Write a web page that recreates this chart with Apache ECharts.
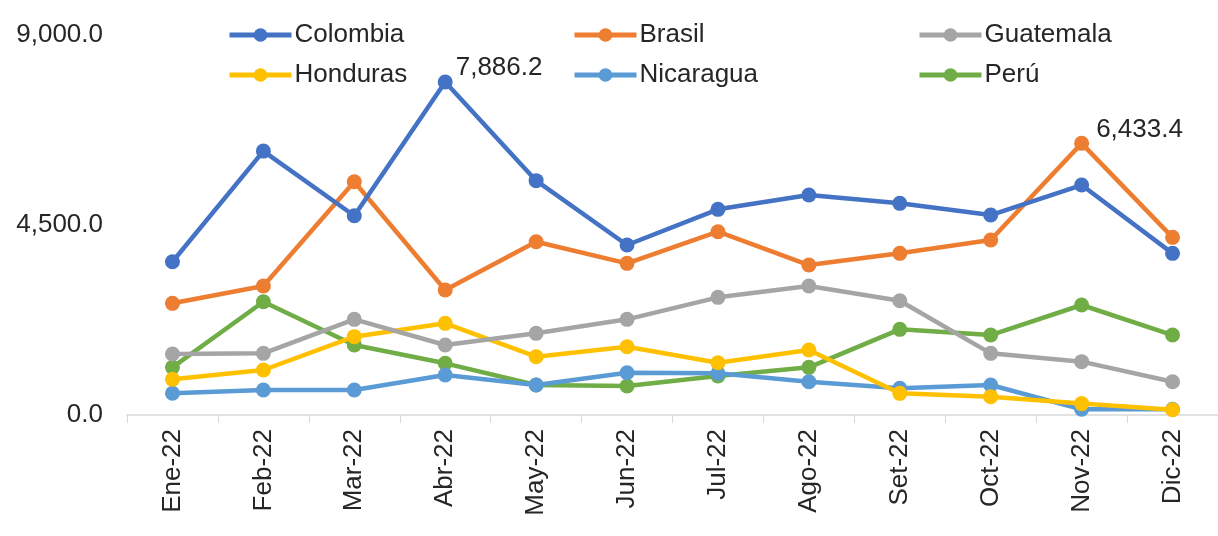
<!DOCTYPE html>
<html>
<head>
<meta charset="utf-8">
<script src="https://cdn.jsdelivr.net/npm/echarts@6/dist/echarts.min.js"></script>
<style>
  html, body { margin: 0; padding: 0; background: #fff; }
  #main { width: 1218px; height: 536px; }
</style>
</head>
<body>
<div id="main"></div>
<script>
// meses
var months = ['Ene-22', 'Feb-22', 'Mar-22', 'Abr-22', 'May-22', 'Jun-22',
              'Jul-22', 'Ago-22', 'Set-22', 'Oct-22', 'Nov-22', 'Dic-22'];

// valores por país
var colombia  = [3630, 6250, 4720, 7886.2, 5550, 4026, 4871, 5210, 5013, 4736, 5446, 3829];
var brasil    = [2645, 3055, 5525, 2960, 4104, 3592, 4341, 3552, 3829, 4144, 6433.4, 4208];
var guatemala = [1444, 1460, 2266, 1658, 1934, 2266, 2787, 3055, 2707, 1460, 1263, 789];
var honduras  = [845, 1066, 1855, 2171, 1381, 1618, 1239, 1539, 513, 434, 270, 125];
var nicaragua = [514, 592, 592, 947, 710, 1002, 987, 789, 632, 710, 135, 135];
var peru      = [1129, 2683, 1658, 1224, 710, 687, 924, 1129, 2029, 1894, 2605, 1894];

// eje y
var yTicks = [0, 4500, 9000];

var names  = ['Colombia', 'Brasil', 'Guatemala', 'Honduras', 'Nicaragua', 'Perú'];
var colors = ['#4472C4', '#ED7D31', '#A5A5A5', '#FFC000', '#5B9BD5', '#70AD47'];
var datos  = [colombia, brasil, guatemala, honduras, nicaragua, peru];
// etiqueta sólo en el máximo de cada serie marcada
var labelIdx = { 'Colombia': 3, 'Brasil': 10 };

function fmt(v) {
    return v.toLocaleString('en-US', { minimumFractionDigits: 1, maximumFractionDigits: 1 });
}

var FONT = '"Liberation Sans", Arial, sans-serif';
var TXT = '#262626';

var series = [];
var legends = [];
for (var i = 0; i < names.length; i++) {
    var name = names[i];
    var d = datos[i].map(function (v, j) {
        var item = { value: v };
        if (labelIdx[name] === j) {
            item.label = {
                show: true,
                position: 'right',
                distance: 3,
                offset: [name === 'Brasil' ? 4 : 0, -14],
                formatter: function (p) { return fmt(p.value); },
                fontSize: 26,
                color: TXT,
                fontFamily: FONT
            };
        }
        return item;
    });
    series.push({
        name: name,
        type: 'line',
        data: d,
        symbol: 'circle',
        symbolSize: 15,
        lineStyle: { width: 4.5, color: colors[i] },
        itemStyle: { color: colors[i] },
        emphasis: { disabled: true },
        z: 10 - i
    });
    legends.push({
        data: [name],
        left: 222 + (i % 3) * 345,
        top: i < 3 ? 17 : 57,
        itemWidth: 62,
        itemHeight: 17,
        itemGap: 0,
        selectedMode: false,
        lineStyle: { width: 5 },
        textStyle: { fontSize: 26, color: TXT, fontFamily: FONT, padding: [0, 0, 0, -2] }
    });
}

var myChart = echarts.init(document.getElementById('main'));
myChart.setOption({
    animation: false,
    legend: legends,
    grid: { left: 127, right: -3, top: 35, bottom: 121, containLabel: false },
    xAxis: {
        type: 'category',
        data: months,
        boundaryGap: true,
        axisLine: { lineStyle: { color: '#D9D9D9', width: 1.5 } },
        axisTick: { show: true, length: 8, lineStyle: { color: '#D9D9D9' } },
        axisLabel: {
            rotate: 90,
            margin: 14,
            fontSize: 26,
            color: TXT,
            fontFamily: FONT
        }
    },
    yAxis: {
        type: 'value',
        min: yTicks[0],
        max: yTicks[yTicks.length - 1],
        interval: yTicks[1] - yTicks[0],
        splitLine: { show: false },
        axisLine: { show: false },
        axisTick: { show: false },
        axisLabel: {
            margin: 24,
            fontSize: 26,
            color: TXT,
            fontFamily: FONT,
            formatter: function (v) { return fmt(v); }
        }
    },
    series: series
});
</script>
</body>
</html>
